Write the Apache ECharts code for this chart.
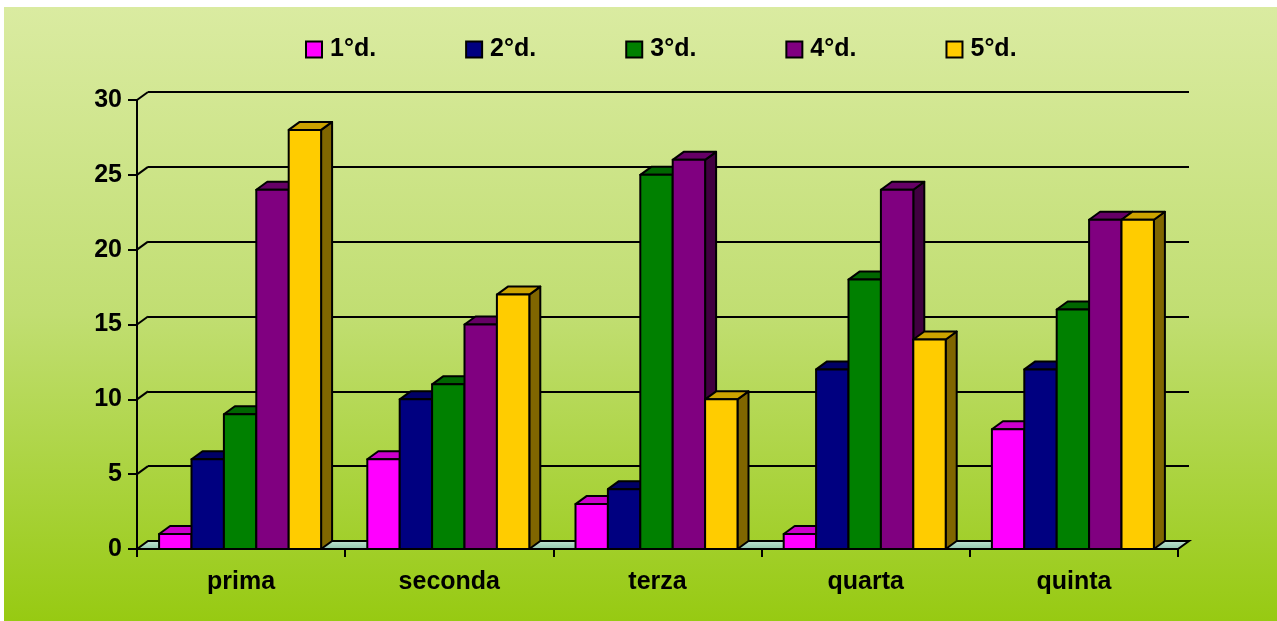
<!DOCTYPE html>
<html>
<head>
<meta charset="utf-8">
<script src="https://cdn.jsdelivr.net/npm/echarts@6/dist/echarts.min.js"></script>
<style>
html, body { margin: 0; padding: 0; background: #fff; }
#main { width: 1277px; height: 621px; }
</style>
</head>
<body>
<div id="main"></div>
<script>
// dati
var categories = ['prima', 'seconda', 'terza', 'quarta', 'quinta'];
var seriesNames = ['1°d.', '2°d.', '3°d.', '4°d.', '5°d.'];
var d1 = [1, 6, 3, 1, 8];
var d2 = [6, 10, 4, 12, 12];
var d3 = [9, 11, 25, 18, 16];
var d4 = [24, 15, 26, 24, 22];
var d5 = [28, 17, 10, 14, 22];
var yTicks = [0, 5, 10, 15, 20, 25, 30];

// colori: fronte, sopra, lato
var frontColors = ['#FF00FF', '#000080', '#008000', '#800080', '#FFCC00'];
var topColors = ['#CC00CC', '#000066', '#006600', '#660066', '#CCA300'];
var sideColors = ['#800080', '#000040', '#004000', '#400040', '#806600'];

var DX = 11, DY = 8;   // profondita 3D
var BAR_W = 32.4;
var FONT = '"Liberation Sans", Arial, sans-serif';

var chart = echarts.init(document.getElementById('main'));

// barra 3D
function makeBar(idx) {
    return function (params, api) {
        var cat = api.value(0);
        var val = api.value(1);
        var base = api.coord([cat, 0]);
        var top = api.coord([cat, val]);
        var x0 = base[0] - BAR_W * 5 / 2 + idx * BAR_W - 1;
        var x1 = x0 + BAR_W;
        var yb = base[1], yt = top[1];
        var st = { stroke: '#000', lineWidth: 2, lineJoin: 'round' };
        return {
            type: 'group',
            children: [
                {
                    type: 'polygon',
                    shape: { points: [[x1, yt], [x1 + DX, yt - DY], [x1 + DX, yb - DY], [x1, yb]] },
                    style: Object.assign({ fill: sideColors[idx] }, st)
                },
                {
                    type: 'polygon',
                    shape: { points: [[x0, yt], [x0 + DX, yt - DY], [x1 + DX, yt - DY], [x1, yt]] },
                    style: Object.assign({ fill: topColors[idx] }, st)
                },
                {
                    type: 'rect',
                    shape: { x: x0, y: yt, width: BAR_W, height: yb - yt },
                    style: Object.assign({ fill: frontColors[idx] }, st)
                }
            ]
        };
    };
}

// pavimento
function renderFloor(params, api) {
    var cs = params.coordSys;
    var yb = cs.y + cs.height;
    return {
        type: 'polygon',
        shape: { points: [[cs.x, yb], [cs.x + DX, yb - DY], [cs.x + cs.width + DX, yb - DY], [cs.x + cs.width, yb]] },
        style: {
            fill: new echarts.graphic.LinearGradient(0, 0, 0, 1, [
                { offset: 0, color: '#C4E6D6' },
                { offset: 1, color: '#8CC4A8' }
            ]),
            stroke: '#000',
            lineWidth: 2
        }
    };
}

// diagonali dei tick verso la parete di fondo
function renderDiag(params, api) {
    var cs = params.coordSys;
    var p = api.coord([0, api.value(0)]);
    return {
        type: 'line',
        shape: { x1: cs.x, y1: p[1], x2: cs.x + DX, y2: p[1] - DY },
        style: { stroke: '#000', lineWidth: 2 }
    };
}

var allData = [d1, d2, d3, d4, d5];
var series = [
    {
        type: 'custom',
        name: 'floor',
        xAxisIndex: 0, yAxisIndex: 0,
        renderItem: renderFloor,
        data: [[0, 0]],
        silent: true,
        z: 1
    },
    {
        type: 'custom',
        name: 'diag',
        xAxisIndex: 0, yAxisIndex: 0,
        renderItem: renderDiag,
        encode: { y: 0 },
        data: yTicks.slice(1).map(function (v) { return [v]; }),
        silent: true,
        clip: false,
        z: 1
    }
];
for (var i = 0; i < 5; i++) {
    series.push({
        type: 'custom',
        name: seriesNames[i],
        xAxisIndex: 0, yAxisIndex: 0,
        renderItem: makeBar(i),
        itemStyle: { color: frontColors[i] },
        encode: { x: 0, y: 1 },
        data: allData[i].map(function (v, k) { return [k, v]; }),
        clip: false,
        z: 3
    });
}

option = {
    backgroundColor: '#fff',
    animation: false,
    graphic: [{
        type: 'rect',
        left: 4, top: 7,
        shape: { width: 1273, height: 614 },
        style: {
            fill: new echarts.graphic.LinearGradient(0, 0, 0, 1, [
                { offset: 0, color: '#DAEBA1' },
                { offset: 0.5, color: '#C1DE72' },
                { offset: 1, color: '#97CA12' }
            ])
        },
        z: -100
    }],
    legend: {
        data: seriesNames,
        left: 300,
        top: 32,
        icon: 'rect',
        itemWidth: 16,
        itemHeight: 16,
        itemGap: 89,
        itemStyle: { borderColor: '#000', borderWidth: 2 },
        textStyle: { color: '#000', fontWeight: 'bold', fontSize: 25, fontFamily: FONT, padding: [0, 0, 0, 3] }
    },
    grid: [
        { left: 137, top: 100, width: 1041, height: 449 },
        { left: 148, top: 92, width: 1041, height: 449 }
    ],
    xAxis: [
        {
            type: 'category',
            gridIndex: 0,
            data: categories,
            axisLine: { show: true, lineStyle: { color: '#000', width: 2 } },
            axisTick: { show: true, length: 8, lineStyle: { color: '#000', width: 2 } },
            axisLabel: { color: '#000', fontWeight: 'bold', fontSize: 25, fontFamily: FONT, margin: 21 },
            splitLine: { show: false }
        },
        {
            type: 'category',
            gridIndex: 1,
            data: categories,
            show: false
        }
    ],
    yAxis: [
        {
            type: 'value',
            gridIndex: 0,
            min: 0, max: 30, interval: 5,
            axisLine: { show: true, lineStyle: { color: '#000', width: 2 } },
            axisTick: { show: true, length: 9, lineStyle: { color: '#000', width: 2 } },
            axisLabel: { color: '#000', fontWeight: 'bold', fontSize: 25, fontFamily: FONT, margin: 15 },
            splitLine: { show: false }
        },
        {
            type: 'value',
            gridIndex: 1,
            min: 0, max: 30, interval: 5,
            axisLine: { show: false },
            axisTick: { show: false },
            axisLabel: { show: false },
            splitLine: { show: true, lineStyle: { color: '#000', width: 2 } }
        }
    ],
    series: series
};
chart.setOption(option);
</script>
</body>
</html>
